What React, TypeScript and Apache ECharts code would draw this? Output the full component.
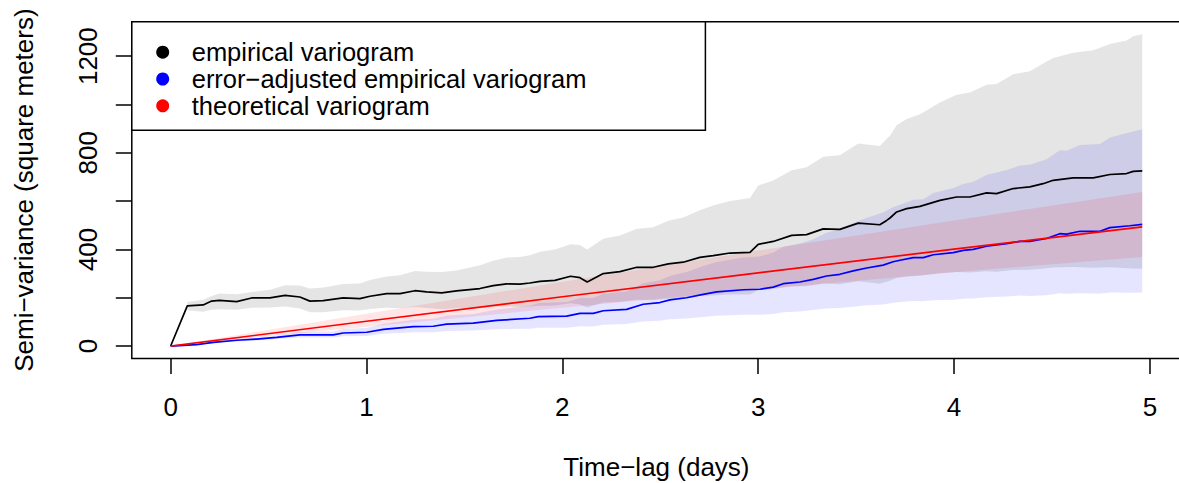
import React, { useEffect, useRef } from "react";
import * as echarts from "echarts";

const FONT = '"Liberation Sans", Arial, Helvetica, sans-serif';
const FS = 26;
const LEGEND_FS = 25.5;

// Tick positions and labels
const xTicks = [0, 1, 2, 3, 4, 5];
const yTicks = [0, 200, 400, 600, 800, 1000, 1200];
const yLabels = [0, 400, 800, 1200];

// Series names
const NAME_EMP = "empirical variogram";
const NAME_ADJ = "error\u2212adjusted empirical variogram";
const NAME_MOD = "theoretical variogram";

// Empirical variogram (days, square meters)
const empLag = [
  0, 0.085, 0.166, 0.209, 0.248, 0.337, 0.413, 0.507, 0.584, 0.66, 0.711, 0.779, 0.881, 0.966,
  1.018, 1.103, 1.171, 1.247, 1.307, 1.384, 1.46, 1.579, 1.647, 1.716, 1.783, 1.834, 1.886, 1.962,
  2.042, 2.09, 2.127, 2.209, 2.294, 2.381, 2.464, 2.541, 2.617, 2.702, 2.77, 2.856, 2.958, 3.0,
  3.077, 3.171, 3.247, 3.332, 3.417, 3.511, 3.621, 3.656, 3.673, 3.707, 3.758, 3.826, 3.928,
  4.013, 4.081, 4.166, 4.217, 4.302, 4.387, 4.455, 4.506, 4.608, 4.711, 4.796, 4.881, 4.915, 4.961,
];
const empSemi = [
  0, 166, 170, 186, 189, 184, 199, 199, 210, 203, 186, 188, 199, 196, 206, 217, 217, 229, 224, 220,
  228, 238, 250, 257, 256, 261, 268, 272, 289, 283, 265, 300, 308, 326, 326, 340, 347, 367, 374,
  385, 388, 421, 433, 458, 461, 485, 483, 509, 502, 520, 530, 555, 569, 578, 603, 617, 617, 634,
  631, 652, 659, 672, 686, 696, 696, 710, 714, 723, 725,
];
// Confidence band of the empirical variogram (from the first non-zero lag)
const empCILag = empLag.slice(1);
const empCIHigh = [
  182, 192, 207, 217, 214, 224, 233, 252, 251, 238, 242, 257, 259, 273, 288, 293, 311, 308, 306,
  313, 334, 353, 366, 369, 376, 390, 400, 421, 418, 400, 444, 458, 486, 492, 519, 532, 562, 582,
  600, 613, 665, 685, 728, 740, 784, 790, 838, 828, 858, 870, 914, 940, 960, 1008, 1040, 1050,
  1082, 1085, 1125, 1138, 1170, 1192, 1214, 1224, 1250, 1265, 1282, 1291,
];
const empCILow = [
  148, 142, 150, 152, 150, 158, 159, 164, 155, 140, 140, 148, 147, 153, 158, 156, 162, 157, 152,
  156, 157, 162, 165, 162, 164, 167, 168, 177, 172, 160, 180, 183, 192, 190, 196, 198, 207, 209,
  213, 213, 231, 236, 248, 248, 259, 256, 268, 258, 266, 270, 282, 288, 291, 301, 306, 304, 310,
  307, 315, 316, 320, 325, 327, 324, 326, 322, 321, 320,
];

// Error-adjusted empirical variogram
const adjLag = [
  0, 0.133, 0.218, 0.337, 0.439, 0.541, 0.66, 0.83, 0.881, 1.001, 1.086, 1.239, 1.341, 1.409,
  1.545, 1.665, 1.834, 1.877, 2.022, 2.09, 2.158, 2.209, 2.328, 2.413, 2.498, 2.549, 2.634, 2.719,
  2.788, 2.924, 3.009, 3.077, 3.128, 3.213, 3.281, 3.349, 3.417, 3.485, 3.554, 3.638, 3.689, 3.724,
  3.792, 3.843, 3.894, 3.996, 4.047, 4.098, 4.166, 4.268, 4.336, 4.387, 4.472, 4.54, 4.575, 4.643,
  4.745, 4.796, 4.898, 4.961,
];
const adjSemi = [
  0, 6, 15, 24, 29, 36, 46, 46, 54, 57, 69, 80, 82, 91, 95, 106, 115, 122, 124, 135, 135, 146, 152,
  173, 180, 191, 200, 214, 224, 233, 235, 244, 258, 265, 276, 290, 297, 311, 323, 335, 349, 355,
  366, 366, 378, 387, 396, 400, 413, 424, 433, 433, 445, 465, 463, 475, 475, 490, 498, 504,
];
const adjCIHigh = [
  0, 7, 17, 28, 34, 43, 58, 60, 71, 75, 92, 109, 113, 126, 133, 151, 167, 178, 182, 199, 199, 216,
  226, 260, 272, 290, 306, 331, 348, 366, 371, 387, 411, 424, 442, 469, 485, 509, 531, 553, 576,
  585, 606, 608, 634, 654, 671, 680, 708, 729, 747, 750, 773, 810, 808, 832, 836, 863, 885, 897,
];
const adjCILow = [
  0, 5, 12, 19, 23, 29, 35, 35, 40, 42, 51, 57, 57, 62, 64, 69, 72, 76, 76, 82, 81, 88, 91, 102,
  105, 111, 114, 120, 125, 129, 129, 133, 140, 143, 149, 155, 157, 163, 169, 172, 179, 182, 186,
  185, 190, 192, 196, 197, 202, 205, 209, 207, 210, 218, 216, 219, 216, 222, 221, 222,
];

// Fitted (theoretical) variogram and its confidence band
const modLag = [0, 1, 2, 3, 4, 4.961];
const modSemi = [0, 102.5, 204, 303, 401, 493];
const modCIHigh = [0, 134, 266, 395, 520, 638];
const modCILow = [0, 80, 158, 234, 305, 369];

const pairs = (xs: number[], ys: number[]) => xs.map((x, i) => [x, ys[i]]);

// One translucent polygon between the lower and upper confidence limits
function band(xs: number[], lo: number[], hi: number[], color: string) {
  return {
    type: "custom",
    data: xs.map((x, i) => [x, lo[i], hi[i]]),
    encode: { x: 0, y: [1, 2] },
    silent: true,
    z: 1,
    renderItem: (params: any, api: any) => {
      if (params.dataIndex !== 0) return null;
      const top = xs.map((x, i) => api.coord([x, hi[i]]));
      const bottom = xs.map((x, i) => api.coord([x, lo[i]])).reverse();
      return {
        type: "polygon",
        shape: { points: top.concat(bottom) },
        style: { fill: color, stroke: "none" },
        silent: true,
      };
    },
  };
}

function curve(name: string, xs: number[], ys: number[], color: string, z: number) {
  return {
    type: "line",
    name,
    data: pairs(xs, ys),
    symbol: "none",
    color,
    lineStyle: { color, width: 1.7 },
    silent: true,
    z,
  };
}

export default function App() {
  const ref = useRef<HTMLDivElement>(null);

  useEffect(() => {
    const chart = echarts.init(ref.current as HTMLDivElement, null, { renderer: "svg" });
    const tickStyle = { color: "#000", width: 1.5 };
    const plain = (v: number) => String(v);

    chart.setOption({
      animation: false,
      textStyle: { fontFamily: FONT },
      grid: {
        left: 131.8,
        top: 21.7,
        width: 1049.3,
        height: 336.8,
        show: true,
        borderColor: "#000",
        borderWidth: 1.5,
        backgroundColor: "transparent",
        containLabel: false,
        outerBoundsMode: "none",
      },
      legend: {
        data: [NAME_EMP, NAME_ADJ, NAME_MOD],
        orient: "vertical",
        left: 131.8,
        top: 21.7,
        icon: "circle",
        itemWidth: 13,
        itemHeight: 13,
        itemGap: 0.8,
        padding: [17.5, 119, 11.5, 24.4],
        backgroundColor: "#fff",
        borderColor: "#000",
        borderWidth: 1.5,
        borderRadius: 0,
        selectedMode: false,
        itemStyle: { borderWidth: 0 },
        textStyle: {
          fontFamily: FONT,
          fontSize: LEGEND_FS,
          color: "#000",
          lineHeight: 26,
          padding: [0, 0, 0, 17.5],
        },
        z: 10,
      },
      xAxis: {
        type: "value",
        min: -0.1984,
        max: 5.1594,
        name: "Time\u2212lag (days)",
        nameLocation: "middle",
        nameGap: 95.5,
        nameTextStyle: { fontFamily: FONT, fontSize: FS, color: "#000" },
        axisLine: { show: false, onZero: false },
        splitLine: { show: false },
        axisTick: { show: true, length: 15.5, inside: false, lineStyle: tickStyle, customValues: xTicks },
        axisLabel: {
          customValues: xTicks,
          formatter: plain,
          margin: 35,
          fontFamily: FONT,
          fontSize: FS,
          color: "#000",
        },
      },
      yAxis: {
        type: "value",
        min: -51.6,
        max: 1342.6,
        name: "Semi\u2212variance (square meters)",
        nameLocation: "middle",
        nameGap: 94.5,
        nameTextStyle: { fontFamily: FONT, fontSize: FS, color: "#000" },
        axisLine: { show: false, onZero: false },
        splitLine: { show: false },
        axisTick: { show: true, length: 16, inside: false, lineStyle: tickStyle, customValues: yTicks },
        axisLabel: {
          customValues: yLabels,
          formatter: plain,
          rotate: 90,
          margin: 31,
          fontFamily: FONT,
          fontSize: FS,
          color: "#000",
        },
      },
      series: [
        band(empCILag, empCILow, empCIHigh, "rgba(0,0,0,0.1)"),
        band(adjLag, adjCILow, adjCIHigh, "rgba(0,0,255,0.1)"),
        band(modLag, modCILow, modCIHigh, "rgba(255,0,0,0.1)"),
        curve(NAME_EMP, empLag, empSemi, "#000000", 3),
        curve(NAME_ADJ, adjLag, adjSemi, "#0000ff", 4),
        curve(NAME_MOD, modLag, modSemi, "#ff0000", 5),
      ],
    });

    return () => chart.dispose();
  }, []);

  return (
    <div
      ref={ref}
      style={{ position: "absolute", left: 0, top: 0, width: 1179, height: 483 }}
    />
  );
}
